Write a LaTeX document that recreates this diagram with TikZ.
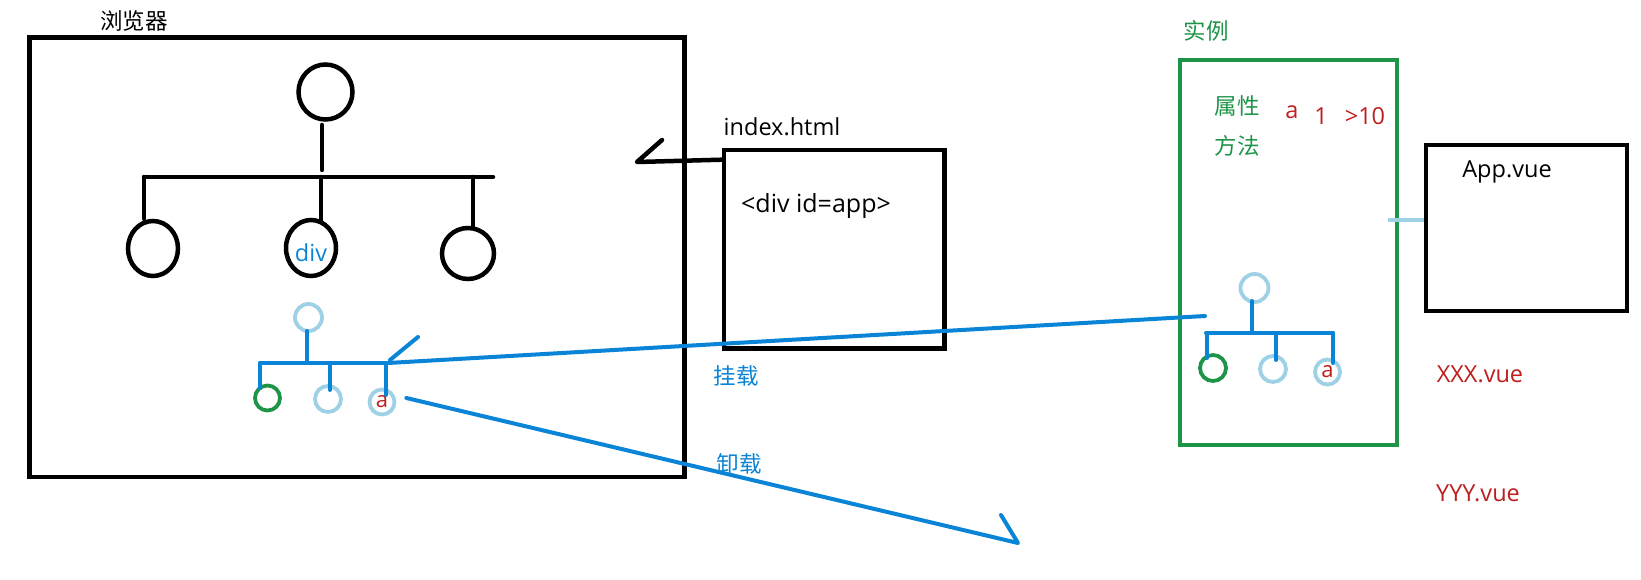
\documentclass[tikz,border=0pt]{standalone}
\usepackage{fontspec}
\setmainfont{Open Sans}
\newfontfamily\cjk{Noto Sans CJK SC}
\usetikzlibrary{shapes.geometric}
\definecolor{inkblue}{RGB}{10,132,214}
\definecolor{lblue}{RGB}{158,208,230}
\definecolor{igreen}{RGB}{30,148,72}
\definecolor{ired}{RGB}{190,30,30}
\begin{document}
\begin{tikzpicture}[x=1pt,y=-1pt,
  lat/.style={font=\fontsize{23.5}{28}\selectfont, inner sep=0},
  zh/.style={font=\cjk\fontsize{22.5}{27}\selectfont, inner sep=0},
  boxnode/.style={draw, line width=4.6pt, inner sep=0},
  blkline/.style={line width=4.5pt, line cap=round, line join=round},
  bov/.style={draw, ellipse, line width=4.5pt, inner sep=0},
  bl/.style={draw=inkblue, line width=4pt, line cap=round, line join=round},
  lbline/.style={draw=lblue, line width=4pt},
  lbc/.style={draw=lblue, circle, line width=3.8pt, inner sep=0},
  gc/.style={draw=igreen, circle, line width=3.8pt, inner sep=0},
  atext/.style={text=ired, font=\fontsize{22}{24}\selectfont},
]
\useasboundingbox (0,0) rectangle (1641,580);

% boxes
\node[boxnode, minimum width=655pt, minimum height=439.5pt] (browser) at (357,257.25) {};
\node[boxnode, minimum width=220.5pt, minimum height=198.5pt] (index) at (834.25,249.25) {};
\node[boxnode, draw=igreen, line width=4pt, minimum width=217pt, minimum height=384.5pt] (inst) at (1288.5,252.25) {};
\node[boxnode, minimum width=201pt, minimum height=166pt] (app) at (1526.5,228) {};

% labels
\node[zh] (browserlbl) at (134,21) {浏览器};
\node[lat] (indexlbl) at (782,127) {index.html};
\node[lat, font=\fontsize{25}{30}\selectfont] (divapp) at (816,206) {<div id=app>};
\node[zh, text=inkblue] (mountlbl) at (736,376) {挂载};
\node[zh, text=inkblue] (unmountlbl) at (739,464) {卸载};
\node[zh, text=igreen] (instlbl) at (1206,31) {实例};
\node[zh, text=igreen] (proplbl) at (1237,106) {属性};
\node[zh, text=igreen] (methlbl) at (1237,146) {方法};
\node[lat, text=ired] (avar) at (1292,112) {a};
\node[lat, text=ired] (one) at (1321,116) {1};
\node[lat, text=ired] (gtten) at (1365,116) {>10};
\node[lat] (applbl) at (1507,172) {App.vue};
\node[lat, text=ired] (xxx) at (1480,374) {XXX.vue};
\node[lat, text=ired] (yyy) at (1478,493) {YYY.vue};

% arrow index.html -> browser
\coordinate (arrL) at (637,162);
\draw[blkline] (index.north west) ++(0,12) -- (arrL) -- ++(25,-22);

% App.vue -> instance
\draw[lbline] (app.west) ++(0,-8) -- ++(-36,0);

% black DOM tree
\node[bov, minimum width=54pt, minimum height=55pt] (t0) at (325.5,92) {};
\node[bov, minimum width=50pt, minimum height=55pt] (t1) at (153,248.5) {};
\node[bov, minimum width=50pt, minimum height=56pt] (t2) at (311,248) {};
\node[bov, minimum width=52pt, minimum height=51pt] (t3) at (468,253.5) {};
\node[lat, text=inkblue] (divlbl) at (311,253) {div};
\coordinate (barL) at (144,177);
\coordinate (barR) at (493,177);
\draw[blkline] (322,125) -- (322,170);
\draw[blkline] (barL) -- (barR);
\draw[blkline] (barL) -- (t1.north -| barL);
\draw[blkline] (321,177) -- (321,221);
\draw[blkline] (473,177) -- (473,228);

% blue tree in browser
\node[lbc, minimum size=27pt] (u0) at (308.5,317.5) {};
\node[gc, minimum size=25pt] (ug) at (267.5,398) {};
\node[lbc, minimum size=26pt] (um) at (328,399) {};
\node[lbc, minimum size=25pt, atext] (ua) at (382,402) {a};
\coordinate (ubL) at (260,363);
\coordinate (ubR) at (388,363);
\draw[bl] (307,331) -- (307,361);
\draw[bl] (ubL) -- (ubR);
\draw[bl] (ubL) -- (260,388);
\draw[bl] (330,363) -- (330,390);
\draw[bl] (386,363) -- (386,395);
\draw[bl] (390,360) -- (418,337);

% blue tree in instance
\node[lbc, minimum size=28pt] (v0) at (1254.5,288) {};
\node[gc, minimum size=26pt] (vg) at (1213,368) {};
\node[lbc, minimum size=26pt] (vm) at (1273,369) {};
\node[lbc, minimum size=25pt, atext] (va) at (1327.5,372) {a};
\coordinate (vbL) at (1206,333);
\coordinate (vbR) at (1333,333);
\draw[bl] (1252,301) -- (1252,333);
\draw[bl] (vbL) -- (vbR);
\draw[bl] (1207,333) -- (1207,358);
\draw[bl] (1276,333) -- (1276,360);
\draw[bl] (vbR) -- (1333,363);

% mount / unmount
\coordinate (mountEnd) at (1205,316);
\draw[bl] (ubR) -- (mountEnd);
\coordinate (unmTip) at (1018,543);
\draw[bl] (ua.east) ++(10,-4) -- (unmTip) -- ++(-17,-28);
\end{tikzpicture}
\end{document}
